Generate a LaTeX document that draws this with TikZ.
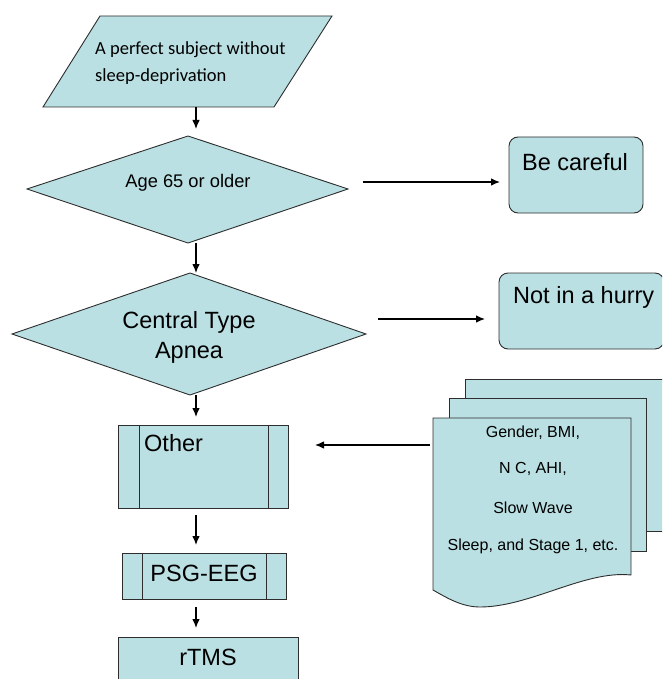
\documentclass[tikz,border=0pt]{standalone}
\usepackage{fontspec}
\setmainfont{Liberation Sans}
\newfontfamily\calfont{Carlito}
\usetikzlibrary{arrows.meta}
\definecolor{fillc}{RGB}{186,224,227}
\definecolor{edgec}{RGB}{45,45,45}
\begin{document}
\begin{tikzpicture}[x=1pt,y=-1pt,
  shapebox/.style={fill=fillc,draw=edgec,line width=0.9pt},
  inner/.style={draw=edgec,line width=0.9pt},
  conn/.style={-{Latex[length=9pt,width=7.5pt]},line width=1.1pt,black},
  big/.style={inner sep=0pt,font=\fontsize{23.5}{30}\selectfont},
  mid/.style={inner sep=0pt,font=\fontsize{18.3}{22}\selectfont},
  small/.style={inner sep=0pt,font=\fontsize{16}{37.5}\selectfont,align=center},
  cal/.style={inner sep=0pt,font=\calfont\fontsize{18.5}{26.5}\selectfont,align=left}]
\useasboundingbox (0,0) rectangle (662,679);
\clip (0,0) rectangle (662,679);

% parallelogram
\draw[shapebox] (100,16) -- (332,16) -- (274,107) -- (43,107) -- cycle;
\coordinate (startS) at (196,107);
\node[cal,anchor=base west] (starttxt) at (95,81.5) {A perfect subject without\\sleep-deprivation};

% diamond 1
\draw[shapebox] (27,189) coordinate (ageW) -- (188,136) coordinate (ageN) -- (348,189) coordinate (ageE) -- (188,243) coordinate (ageS) -- cycle;
\node[mid,anchor=base] (agetxt) at (188,187) {Age 65 or older};

% diamond 2
\draw[shapebox] (12,334) coordinate (ctW) -- (190,273) coordinate (ctN) -- (366,334) coordinate (ctE) -- (190,395) coordinate (ctS) -- cycle;
\node[big,anchor=base] (cttxt1) at (189,328) {Central Type};
\node[big,anchor=base] (cttxt2) at (189,358) {Apnea};

% Be careful
\draw[shapebox,rounded corners=9pt] (509,137) rectangle (643,213);
\coordinate (carefulW) at (509,182);
\node[big,anchor=base] (carefultxt) at (575,170.5) {Be careful};

% Not in a hurry
\draw[shapebox,rounded corners=9pt] (499,273) rectangle (664,349);
\coordinate (hurryW) at (499,319);
\node[big,anchor=base west] (hurrytxt) at (513,303) {Not in a hurry};

% Other
\draw[shapebox] (118,425) rectangle (288,508);
\draw[inner] (139,425) -- (139,508) (268,425) -- (268,508);
\coordinate (otherN) at (196,425);
\coordinate (otherS) at (196,508);
\coordinate (otherE) at (288,445);
\node[big,anchor=base west] (othertxt) at (144,451.5) {Other};

% PSG-EEG
\draw[shapebox] (122,553) rectangle (286,599);
\draw[inner] (142,553) -- (142,599) (266,553) -- (266,599);
\coordinate (psgN) at (196,553);
\coordinate (psgS) at (196,599);
\node[big,anchor=base] (psgtxt) at (204,581) {PSG-EEG};

% rTMS
\draw[shapebox] (118,637) rectangle (298,700);
\coordinate (rtmsN) at (196,637);
\node[big,anchor=base] (rtmstxt) at (208,665.5) {rTMS};

% document stack
\draw[shapebox] (465,379) rectangle (700,531);
\draw[shapebox] (449,398) rectangle (646,551);
\draw[shapebox] (433,418) -- (631,418) -- (631,575)
  .. controls (585,570) and (530,607) .. (480,607)
  .. controls (462,607) and (447,598) .. (433,590) -- cycle;
\coordinate (docW) at (433,445);
\node[small,anchor=base] (doctxt1) at (533,437.5) {Gender, BMI,};
\node[small,anchor=base] (doctxt2) at (533,473.5) {N C, AHI,};
\node[small,anchor=base] (doctxt3) at (533,513) {Slow Wave};
\node[small,anchor=base] (doctxt4) at (533,550) {Sleep, and Stage 1, etc.};

% connectors
\draw[conn,shorten >=7pt] (startS) -- (196,0 |- ageN);
\draw[conn] (196,0 |- ageS) -- (196,273);
\draw[conn,shorten <=15pt,shorten >=9pt] (ageE |- carefulW) -- (carefulW);
\draw[conn,shorten <=12pt,shorten >=14pt] (ctE |- hurryW) -- (hurryW);
\draw[conn,shorten >=8pt] (196,0 |- ctS) -- (otherN);
\draw[conn,shorten <=7pt,shorten >=8pt] (otherS) -- (psgN);
\draw[conn,shorten <=8pt,shorten >=9pt] (psgS) -- (rtmsN);
\draw[conn,shorten <=3pt,shorten >=27pt] (docW) -- (otherE);
\end{tikzpicture}
\end{document}
